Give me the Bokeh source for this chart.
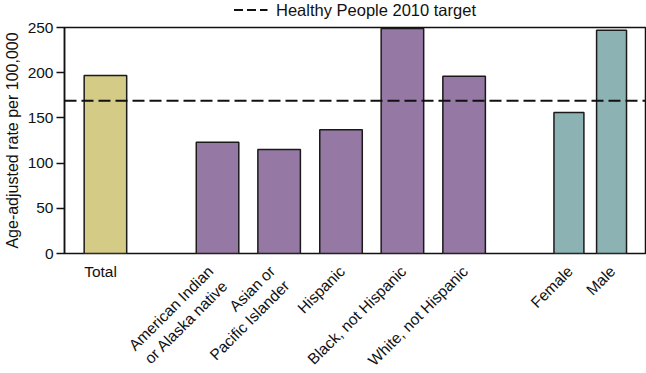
from bokeh.plotting import figure
from bokeh.layouts import column
from bokeh.models import Range1d, FixedTicker, Span, Legend, LegendItem, ColumnDataSource
from bokeh.core.properties import value
from bokeh.embed import file_html
from bokeh.resources import INLINE

# ---- data ----
categories = ["Total", "American Indian\nor Alaska native", "Asian or\nPacific Islander",
              "Hispanic", "Black, not Hispanic", "White, not Hispanic", "Female", "Male"]
rates = [197, 123, 115, 137, 249, 196, 156, 247]
groups = ["all", "race", "race", "race", "race", "race", "sex", "sex"]
target = 169
y_ticks = [0, 50, 100, 150, 200, 250]
legend_text = "Healthy People 2010 target"
y_title = "Age-adjusted rate per 100,000"

# ---- layout / style ----
x_pos = [41, 153.3, 215, 277, 338.5, 400.3, 505.3, 548]
bar_width = {"all": 42.6, "race": 42.6, "sex": 30}
bar_color = {"all": "#d4cb86", "race": "#9579a4", "sex": "#8db2b3"}
FONT = "Liberation Sans"
INK = "#111111"
W = 646
BORDER_L, BORDER_R = 63, 1
TOP_H, MAIN_H, BOT_H = 19, 243, 111

xr = Range1d(0, 582)


def strip(height, yr):
    f = figure(width=W, height=height, output_backend="svg", toolbar_location=None,
               x_range=xr, y_range=yr, min_border_left=BORDER_L, min_border_right=BORDER_R,
               min_border_top=0, min_border_bottom=0)
    f.axis.visible = False
    f.grid.visible = False
    f.outline_line_color = None
    return f


# ---- legend strip ----
top = strip(TOP_H, Range1d(0, 1))
# legend key line (its data lies outside this strip's y-range, so only the key shows)
key = top.line(x=[xr.start, xr.end], y=[target, target], line_dash="9 4",
               line_width=2, line_color=INK)
legend = Legend(items=[LegendItem(label=legend_text, renderers=[key])],
                location="center", orientation="horizontal",
                border_line_color=None, background_fill_alpha=0,
                padding=0, margin=0, spacing=0, glyph_width=34, glyph_height=16,
                label_standoff=9, label_height=16, label_text_font_size="16.5px",
                label_text_font=FONT, label_text_color=INK)
top.add_layout(legend)

# ---- main chart ----
source = ColumnDataSource(dict(
    x=x_pos,
    top=rates,
    w=[bar_width[g] for g in groups],
    color=[bar_color[g] for g in groups],
))

p = figure(width=W, height=MAIN_H, output_backend="svg", toolbar_location=None,
           x_range=xr, y_range=Range1d(0, 250),
           min_border_left=BORDER_L, min_border_right=BORDER_R,
           min_border_top=8, min_border_bottom=9)

p.vbar(x="x", top="top", width="w", bottom=0, fill_color="color",
       line_color="#1a1a1a", line_width=1.5, source=source)

p.add_layout(Span(location=target, dimension="width", line_dash="12 5",
                  line_width=2, line_color=INK))

p.xgrid.visible = False
p.ygrid.visible = False
p.xaxis.visible = False
p.outline_line_color = INK
p.outline_line_width = 1.5

ya = p.yaxis[0]
ya.ticker = FixedTicker(ticks=y_ticks, minor_ticks=[])
ya.axis_label = y_title
ya.axis_label_text_font = FONT
ya.axis_label_text_font_size = "16px"
ya.axis_label_text_font_style = "normal"
ya.axis_label_text_color = INK
ya.axis_label_standoff = 4
ya.major_label_text_font = FONT
ya.major_label_text_font_size = "15.5px"
ya.major_label_text_color = INK
ya.major_label_standoff = 3
ya.major_tick_out = 8
ya.major_tick_in = 0
ya.minor_tick_out = 0
ya.minor_tick_in = 0
ya.axis_line_width = 1.5
ya.major_tick_line_width = 1.5
ya.axis_line_color = INK
ya.major_tick_line_color = INK

# ---- category label strip ----
bot = strip(BOT_H, Range1d(-BOT_H, 0))
flat = [i for i, g in enumerate(groups) if g == "all"]
rot = [i for i, g in enumerate(groups) if g != "all"]

bot.text(x=[x_pos[i] - bar_width[groups[i]] / 2 for i in flat], y=[0] * len(flat),
         text=[categories[i] for i in flat], text_align="left", text_baseline="top",
         text_font=value(FONT), text_font_size="15.5px", text_color=INK)

# two-line labels sit a little further left so the block is centred under its bar
bot.text(x=[x_pos[i] - 5 - 8 * categories[i].count("\n") for i in rot], y=[0] * len(rot),
         text=[categories[i] for i in rot], angle=45, angle_units="deg",
         text_align="right", text_baseline="top", text_line_height=1.2,
         text_font=value(FONT), text_font_size="15.5px", text_color=INK)

layout = column(top, p, bot, spacing=0)
open("out.html", "w").write(file_html(layout, INLINE))
